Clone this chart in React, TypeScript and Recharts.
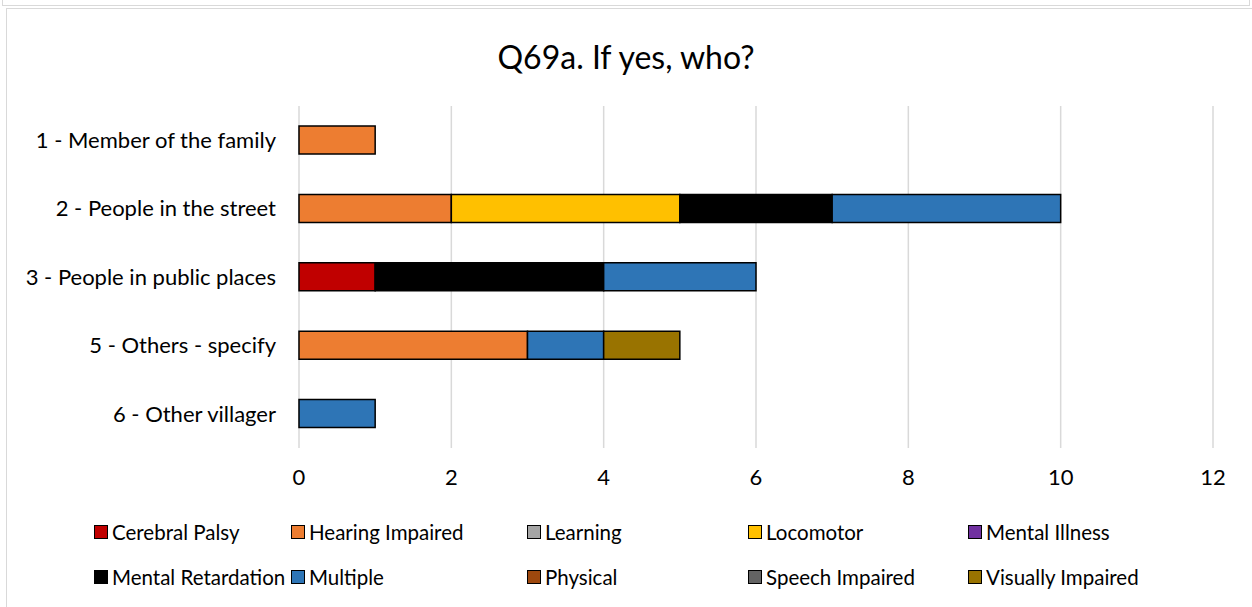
import { BarChart, Bar, XAxis, YAxis, CartesianGrid } from "recharts"

const categories = [
  "1 - Member of the family",
  "2 - People in the street",
  "3 - People in public places",
  "5 - Others - specify",
  "6 - Other villager",
]

const seriesNames = [
  "Cerebral Palsy",
  "Hearing Impaired",
  "Learning",
  "Locomotor",
  "Mental Illness",
  "Mental Retardation",
  "Multiple",
  "Physical",
  "Speech Impaired",
  "Visually Impaired",
]

const seriesColors = [
  "#C00000",
  "#ED7D31",
  "#A5A5A5",
  "#FFC000",
  "#7030A0",
  "#000000",
  "#2E75B6",
  "#9E480E",
  "#636363",
  "#997300",
]

// one value per category, same order as categories
const cerebralPalsy = [0, 0, 1, 0, 0]
const hearingImpaired = [1, 2, 0, 3, 0]
const learning = [0, 0, 0, 0, 0]
const locomotor = [0, 3, 0, 0, 0]
const mentalIllness = [0, 0, 0, 0, 0]
const mentalRetardation = [0, 2, 3, 0, 0]
const multiple = [0, 3, 2, 1, 1]
const physical = [0, 0, 0, 0, 0]
const speechImpaired = [0, 0, 0, 0, 0]
const visuallyImpaired = [0, 0, 0, 1, 0]

const seriesValues = [
  cerebralPalsy,
  hearingImpaired,
  learning,
  locomotor,
  mentalIllness,
  mentalRetardation,
  multiple,
  physical,
  speechImpaired,
  visuallyImpaired,
]

const xTicks = [0, 2, 4, 6, 8, 10, 12]

const chartData = categories.map((name, i) => {
  const row: Record<string, string | number> = { name }
  seriesNames.forEach((s, j) => {
    row[s] = seriesValues[j][i]
  })
  return row
})

const font = "Lato, 'Open Sans', sans-serif"
const legendCols = [103, 300, 536, 757, 977]
const legendRows = [532, 577]

export default function App() {
  return (
    <div style={{ position: "absolute", left: 0, top: 0, width: 1252, height: 607, background: "#fff", fontFamily: font, overflow: "hidden" }}>
      {/* bottom of the previous chart frame, then this chart's frame */}
      <div style={{ position: "absolute", left: 2, top: -2, width: 1246, height: 7, borderLeft: "1px solid #D9D9D9", borderRight: "1px solid #D9D9D9", borderBottom: "1px solid #D9D9D9" }} />
      <div style={{ position: "absolute", left: 6, top: 8, width: 1260, height: 620, borderLeft: "1px solid #D9D9D9", borderTop: "1px solid #D9D9D9" }} />
      <div style={{ position: "absolute", left: 0, width: 1252, top: 37, textAlign: "center", fontSize: 32, lineHeight: "40px", color: "#000" }}>
        Q69a. If yes, who?
      </div>
      <div style={{ position: "absolute", left: 0, top: 0 }}>
        <BarChart
          width={1252}
          height={607}
          data={chartData}
          layout="vertical"
          margin={{ top: 106, right: 39, left: 0, bottom: 129 }}
          barSize={28}
        >
          <CartesianGrid horizontal={false} stroke="#D9D9D9" strokeWidth={1.5} />
          <XAxis
            type="number"
            domain={[0, 12]}
            ticks={xTicks}
            axisLine={false}
            tickLine={false}
            tickSize={0}
            tickMargin={21}
            height={30}
            tick={{ fill: "#000", fontSize: 22, fontFamily: font }}
          />
          <YAxis
            type="category"
            dataKey="name"
            width={299}
            axisLine={false}
            tickLine={false}
            tickSize={0}
            tickMargin={23}
            tick={{ fill: "#000", fontSize: 22, fontFamily: font }}
          />
          {seriesNames.map((s, j) => (
            <Bar
              key={s}
              dataKey={s}
              stackId="a"
              fill={seriesColors[j]}
              stroke="#000"
              strokeWidth={1.5}
              isAnimationActive={false}
            />
          ))}
        </BarChart>
      </div>
      {seriesNames.map((s, j) => {
        const col = j % 5
        const row = Math.floor(j / 5)
        return (
          <div key={s} style={{ position: "absolute", left: legendCols[col] - 9, top: legendRows[row] - 14, height: 28, display: "flex", alignItems: "center", fontSize: 20.5, color: "#000", whiteSpace: "nowrap" }}>
            <span style={{ display: "inline-block", width: 12, height: 12, background: seriesColors[j], border: "1.5px solid #000", marginRight: 4 }} />
            {s}
          </div>
        )
      })}
    </div>
  )
}
